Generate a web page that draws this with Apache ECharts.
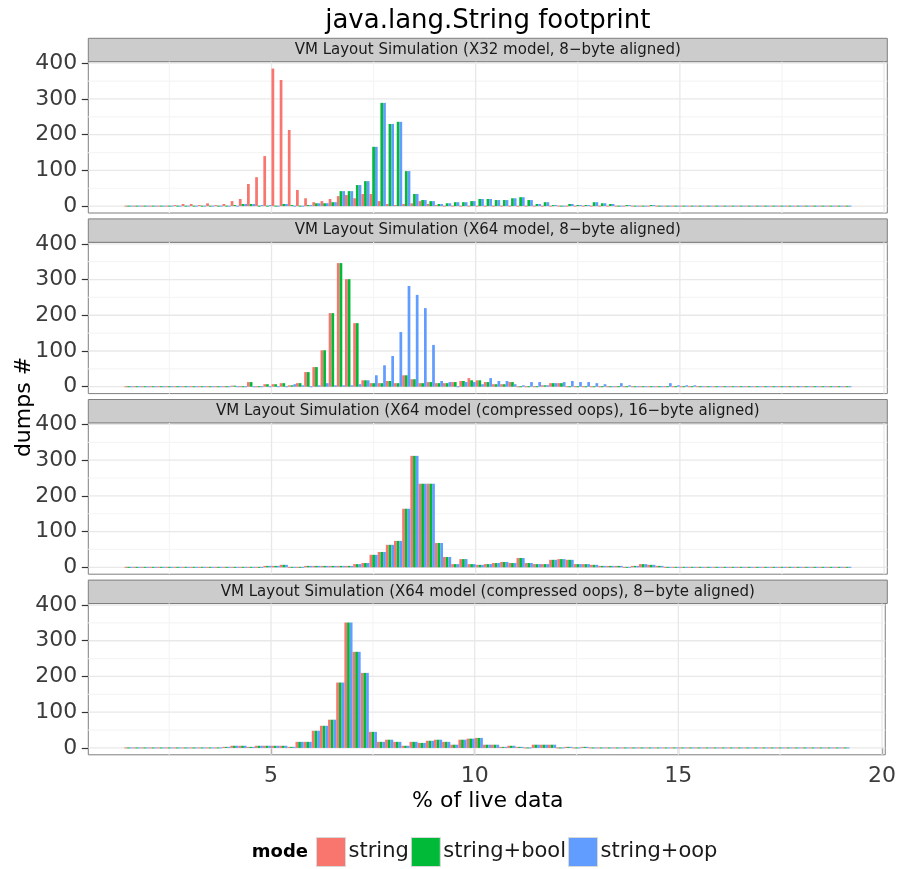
<!DOCTYPE html>
<html><head><meta charset="utf-8">
<script src="https://cdn.jsdelivr.net/npm/echarts@6/dist/echarts.min.js"></script>
<style>html,body{margin:0;padding:0;background:#fff}#c{width:899px;height:869px}</style>
</head><body><div id="c"></div>
<script>
// ---- data ----
const binStart = 1.4;
const binWidth = 0.2;
const modes = ['string', 'string+bool', 'string+oop'];
const modeColors = ['#F8766D', '#00BA38', '#619CFF'];
const panelTitles = [
  'VM Layout Simulation (X32 model, 8\u2212byte aligned)',
  'VM Layout Simulation (X64 model, 8\u2212byte aligned)',
  'VM Layout Simulation (X64 model (compressed oops), 16\u2212byte aligned)',
  'VM Layout Simulation (X64 model (compressed oops), 8\u2212byte aligned)'
];
const xTickValues = [5, 10, 15, 20];
const xMinorValues = [2.5, 7.5, 12.5, 17.5];
const yTickValues = [0, 100, 200, 300, 400];
const yMinorValues = [50, 150, 250, 350];

// panel 1: X32, 8-byte
const x32_string = [0,0,0,0,0,0,3,6,6,3, 8,3,6,14,20,62,81,140,385,353, 213,45,22,11,14,20,28,31,22,34,
  34,14,6,3,6,8,14,6,3,2, 2,1,2,1,0,0,0,0,0,0, 0,0,0,0,0,0,0,0,0,0, 0,0,0,0,0,0,0,0,0,0, 0,0,0,0,0,0,0,0,0,0, 0,0,0,0,0,0,0,0,0];
const x32_bool = [0,0,0,0,0,0,0,0,0,0, 0,0,0,3,6,6,0,0,2,6, 3,0,3,8,8,11,42,42,59,70,
  166,289,230,236,98,34,17,14,6,8, 11,11,14,20,20,17,17,22,25,17, 6,11,3,0,6,3,3,11,8,6, 0,3,0,0,3,0,0,0,0,0, 0,0,0,0,0,0,0,0,0,0, 0,0,0,0,0,0,0,0,0];
const x32_oop = [0,0,0,0,0,0,0,0,0,0, 0,0,0,0,6,6,3,3,0,6, 0,0,3,8,8,11,42,42,59,70,
  166,289,230,236,98,34,17,14,6,8, 11,11,14,20,20,17,17,22,25,17, 6,11,3,0,6,3,3,11,8,6, 0,3,0,0,3,0,0,0,0,0, 0,0,0,0,0,0,0,0,0,0, 0,0,0,0,0,0,0,0,0];

// panel 2: X64, 8-byte
const x64_string = [0,0,0,0,0,0,0,0,0,0, 0,0,0,3,0,13,0,7,7,10, 4,10,41,55,102,206,346,301,178,18,
  10,10,16,10,32,21,10,13,10,10, 13,16,24,18,13,7,7,13,2,2, 0,4,10,10,0,0,0,0,0,0, 0,0,0,0,2,0,0,0,0,0, 0,0,0,0,0,0,0,0,0,0, 0,0,0,0,0,0,0,0,0];
const x64_bool = [0,0,0,0,0,0,0,0,0,0, 0,0,0,3,0,13,0,7,7,10, 4,10,41,55,102,206,346,301,178,18,
  10,10,16,10,32,21,10,13,10,10, 13,16,18,18,13,7,7,13,2,2, 0,4,10,10,0,0,0,0,0,0, 0,0,0,0,2,0,0,0,0,0, 0,0,0,0,0,0,0,0,0,0, 0,0,0,0,0,0,0,0,0];
const x64_oop = [0,0,0,0,0,0,0,0,0,0, 0,0,0,0,0,0,0,0,0,0, 7,4,0,4,10,4,4,4,7,18,
  32,60,86,153,282,257,220,117,16,13, 2,13,13,7,24,16,16,7,4,13, 13,4,10,13,16,13,13,10,7,2, 10,4,0,0,0,0,10,4,4,4, 0,0,0,0,0,0,0,0,0,0, 0,0,0,0,0,0,0,0,0];

// panel 3: X64 compressed oops, 16-byte
const c16_string = [0,0,0,0,0,0,0,0,2,0, 0,0,0,0,0,0,0,4,4,7, 2,1,4,4,4,4,4,4,9,12,
  35,43,63,74,164,312,234,234,68,29, 9,23,9,7,9,12,15,12,26,12, 9,9,21,23,21,9,9,7,4,4, 4,1,4,9,7,4,0,1,1,1, 0,1,0,0,0,0,0,0,0,0, 0,0,0,0,0,0,0,0,0];
const c16_bool = [0,0,0,0,0,0,0,0,2,0, 0,0,0,0,0,0,0,4,4,7, 1,1,4,4,4,4,4,4,9,12,
  35,43,63,74,164,312,234,234,68,29, 9,23,9,7,9,12,15,12,26,12, 9,9,21,23,21,9,9,7,4,4, 4,1,4,9,7,4,0,1,1,1, 0,1,0,0,0,0,0,0,0,0, 0,0,0,0,0,0,0,0,0];
const c16_oop = [0,0,0,0,0,0,0,0,2,0, 0,0,0,0,0,0,0,4,4,7, 1,2,4,4,4,4,4,4,9,12,
  35,43,63,74,164,312,234,234,68,29, 9,23,9,7,9,12,15,12,26,12, 9,9,21,23,21,9,9,7,4,4, 4,1,4,9,7,4,1,1,1,1, 0,1,0,0,0,0,0,0,0,0, 0,0,0,0,0,0,0,0,0];

// panel 4: X64 compressed oops, 8-byte
const c8_string = [0,0,0,0,0,0,0,0,0,0, 0,0,3,6,6,3,6,6,6,6, 3,17,17,48,62,79,183,351,269,210,
  45,17,23,17,6,17,14,20,23,17, 9,23,26,28,9,9,3,6,3,0, 9,9,9,0,3,0,3,0,0,0, 0,0,0,0,0,0,0,0,0,0, 0,0,0,0,0,0,0,0,0,0, 0,0,0,0,0,0,0,0,0];
const c8_bool = [0,0,0,0,0,0,0,0,0,0, 0,0,3,6,6,3,6,6,6,6, 3,17,17,48,62,79,183,351,269,210,
  45,17,23,17,6,17,14,20,23,17, 9,23,26,28,9,9,3,6,3,0, 9,9,9,0,3,0,3,0,0,0, 0,0,0,0,0,0,0,0,0,0, 0,0,0,0,0,0,0,0,0,0, 0,0,0,0,0,0,0,0,0];
const c8_oop = [0,0,0,0,0,0,0,0,0,0, 0,0,3,6,6,3,6,6,6,6, 3,17,17,48,62,79,183,351,269,210,
  45,17,23,17,6,17,14,20,23,17, 9,23,26,28,9,9,3,6,3,0, 9,9,9,0,3,0,3,0,0,0, 0,0,0,0,0,0,0,0,0,0, 0,0,0,0,0,0,0,0,0,0, 0,0,0,0,0,0,0,0,0];

const panelData = [
  [x32_string, x32_bool, x32_oop],
  [x64_string, x64_bool, x64_oop],
  [c16_string, c16_bool, c16_oop],
  [c8_string, c8_bool, c8_oop]
];

// ---- layout ----
const FONT = 'DejaVu Sans';
const GRID_LEFT = 88.3, GRID_RIGHT = 11.7, GRID_TOP0 = 61.7, PANEL_STEP = 180.6, GRID_H = 151.3, STRIP_H = 23.4;
const X_MIN = 0.513, X_MAX = 20.08, Y_MIN = -19.25, Y_MAX = 404.25;
const PLOT_W = 899 - GRID_LEFT - GRID_RIGHT;
const PLOT_CX = GRID_LEFT + PLOT_W / 2;

const grids = [], xAxes = [], yAxes = [], series = [], graphics = [];

function barRenderer(k) {
  return function (params, api) {
    const x0 = api.value(0), v = api.value(1);
    const p1 = api.coord([x0 + k * binWidth / 3, v]);
    const p2 = api.coord([x0 + (k + 1) * binWidth / 3, 0]);
    let h = p2[1] - p1[1];
    let y = p1[1];
    if (h < 1) { h = 1; y = p2[1] - 0.5; }
    return {
      type: 'rect',
      shape: { x: p1[0], y: y, width: p2[0] - p1[0], height: h },
      style: { fill: api.visual('color') }
    };
  };
}

function gridRenderer(params, api) {
  const cs = params.coordSys;
  const children = [];
  const vline = (v, col, w) => {
    const p = api.coord([v, 0]);
    children.push({ type: 'line', shape: { x1: p[0], y1: cs.y, x2: p[0], y2: cs.y + cs.height }, style: { stroke: col, lineWidth: w } });
  };
  const hline = (v, col, w) => {
    const p = api.coord([X_MIN, v]);
    children.push({ type: 'line', shape: { x1: cs.x, y1: p[1], x2: cs.x + cs.width, y2: p[1] }, style: { stroke: col, lineWidth: w } });
  };
  xMinorValues.forEach(v => vline(v, '#f5f5f5', 1.2));
  yMinorValues.forEach(v => hline(v, '#f5f5f5', 1.2));
  xTickValues.forEach(v => vline(v, '#e8e8e8', 1.3));
  yTickValues.forEach(v => hline(v, '#e8e8e8', 1.3));
  return { type: 'group', children: children };
}

for (let g = 0; g < 4; g++) {
  const top = GRID_TOP0 + PANEL_STEP * g;
  const isBottom = g === 3;
  grids.push({
    left: GRID_LEFT, right: GRID_RIGHT, top: top, height: GRID_H,
    show: true, backgroundColor: '#ffffff', borderColor: '#7f7f7f', borderWidth: 1
  });
  xAxes.push({
    type: 'value', gridIndex: g, min: X_MIN, max: X_MAX,
    axisLine: { show: false }, splitLine: { show: false },
    axisTick: { show: isBottom, customValues: xTickValues, length: 6, lineStyle: { color: '#333', width: 1.2 } },
    axisLabel: { show: isBottom, customValues: xTickValues, fontSize: 22, color: '#3c3c3c', fontFamily: FONT, margin: 10 }
  });
  yAxes.push({
    type: 'value', gridIndex: g, min: Y_MIN, max: Y_MAX,
    axisLine: { show: false }, splitLine: { show: false },
    axisTick: { show: true, customValues: yTickValues, length: 6.5, lineStyle: { color: '#333', width: 1.2 } },
    axisLabel: { show: true, customValues: yTickValues, fontSize: 22, color: '#3c3c3c', fontFamily: FONT, margin: 11 }
  });
  series.push({
    name: '_grid', type: 'custom', xAxisIndex: g, yAxisIndex: g, silent: true, z: 1,
    data: [[X_MIN, 0]], renderItem: gridRenderer
  });
  for (let k = 0; k < 3; k++) {
    const vals = panelData[g][k];
    series.push({
      name: modes[k], type: 'custom', xAxisIndex: g, yAxisIndex: g, z: 2,
      itemStyle: { color: modeColors[k] },
      renderItem: barRenderer(k),
      data: vals.map((v, i) => [binStart + i * binWidth, v])
    });
  }
  // strip
  graphics.push({
    type: 'rect', silent: true,
    shape: { x: GRID_LEFT, y: top - STRIP_H, width: PLOT_W, height: STRIP_H },
    style: { fill: '#cccccc', stroke: '#7f7f7f', lineWidth: 1 }
  });
  graphics.push({
    type: 'text', silent: true, x: PLOT_CX, y: top - STRIP_H / 2,
    style: { text: panelTitles[g], fontSize: 15, fontFamily: FONT, fill: '#1a1a1a', align: 'center', verticalAlign: 'middle', textAlign: 'center', textVerticalAlign: 'middle' }
  });
}

graphics.push({
  type: 'text', silent: true, x: PLOT_CX, y: 21,
  style: { text: 'java.lang.String footprint', fontSize: 26, fontFamily: FONT, fill: '#000', align: 'center', verticalAlign: 'middle', textAlign: 'center', textVerticalAlign: 'middle' }
});
graphics.push({
  type: 'text', silent: true, x: PLOT_CX, y: 801,
  style: { text: '% of live data', fontSize: 22, fontFamily: FONT, fill: '#000', align: 'center', verticalAlign: 'middle', textAlign: 'center', textVerticalAlign: 'middle' }
});
graphics.push({
  type: 'text', silent: true, x: 24, y: 407, rotation: Math.PI / 2,
  style: { text: 'dumps #', fontSize: 22, fontFamily: FONT, fill: '#000', align: 'center', verticalAlign: 'middle', textAlign: 'center', textVerticalAlign: 'middle' }
});
graphics.push({
  type: 'text', silent: true, x: 308, y: 852,
  style: { text: 'mode', fontSize: 18, fontWeight: 'bold', fontFamily: FONT, fill: '#000', align: 'right', verticalAlign: 'middle', textAlign: 'right', textVerticalAlign: 'middle' }
});

const chart = echarts.init(document.getElementById('c'), null, { renderer: 'canvas' });
chart.setOption({
  animation: false,
  backgroundColor: '#ffffff',
  grid: grids,
  xAxis: xAxes,
  yAxis: yAxes,
  series: series,
  legend: {
    data: modes, orient: 'horizontal', left: 311, top: 832,
    icon: 'rect', itemWidth: 29, itemHeight: 29, itemGap: 2,
    itemStyle: { borderColor: '#d9d9d9', borderWidth: 1 },
    textStyle: { fontSize: 21, fontFamily: FONT, color: '#1a1a1a', padding: [0, 0, 0, -2] },
    selectedMode: false
  },
  graphic: graphics
});
</script>
</body></html>
